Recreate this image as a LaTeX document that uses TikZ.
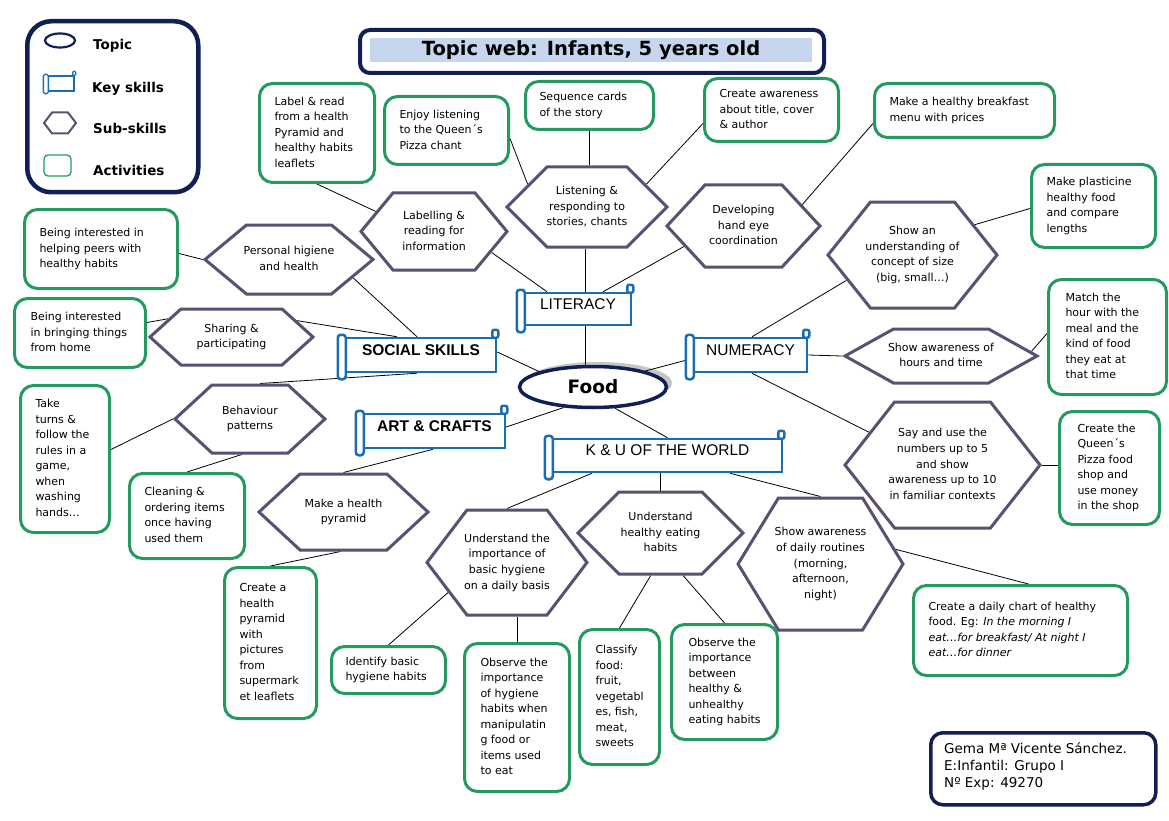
\documentclass[tikz,border=0pt]{standalone}
\usepackage{fontspec}
\setmainfont{DejaVu Sans}
\newfontfamily\arialf{Liberation Sans}
\usetikzlibrary{shapes.symbols,shapes.geometric,backgrounds,calc}
\definecolor{navy}{RGB}{16,32,84}
\definecolor{actgreen}{RGB}{36,154,96}
\definecolor{hexpurple}{RGB}{92,80,112}
\definecolor{scrollblue}{RGB}{28,108,176}
\definecolor{titlefill}{RGB}{198,214,238}
\newcommand\hextext[1]{\makebox[0pt]{\begin{tabular}{@{}c@{}}#1\end{tabular}}}
\newcommand\acttext[2]{\makebox[#1pt][l]{\begin{tabular}{@{}l@{}}#2\end{tabular}}}
\newcommand\scrolldeco[1]{%
  \draw[scrollline,fill=white,rounded corners=3pt] ([xshift=-7pt,yshift=2pt]#1.north west) rectangle ([xshift=1pt,yshift=-6pt]#1.south west);
  \draw[scrollline,fill=white,rounded corners=2pt] ([xshift=-5pt,yshift=7pt]#1.north east) rectangle ([xshift=1pt,yshift=-1pt]#1.north east);
}
\tikzset{
  act/.style={draw=actgreen, line width=3pt, rounded corners=13pt, fill=white, inner xsep=15pt, inner ysep=0pt, anchor=north west, font=\fontsize{11}{15.5}\selectfont},
  subskill/.style={signal, signal to=east and west, draw=hexpurple, line width=3pt, fill=white, inner sep=0pt, font=\fontsize{11}{15.6}\selectfont},
  keyskill/.style={draw=scrollblue, line width=2.5pt, fill=white, inner sep=0pt, text height=0pt, text depth=0pt, font=\arialf\fontsize{15.5}{18}\selectfont},
  scrollline/.style={draw=scrollblue, line width=2.5pt},
  conn/.style={draw=black, line width=0.8pt},
  legtext/.style={anchor=base west, inner sep=0pt, font=\bfseries\fontsize{13.5}{16}\selectfont},
}
\begin{document}
\begin{tikzpicture}[x=1pt,y=-1pt]
\useasboundingbox (0,0) rectangle (1169,821);

% ---------- legend ----------
\node[draw=navy, line width=4.5pt, rounded corners=24pt, minimum width=171, minimum height=171, anchor=north west] (legend) at (25,19) {};
\node[ellipse, draw=navy, line width=2.2pt, minimum width=30, minimum height=14, inner sep=0pt] (legtopic) at (60,40.5) {};
\node[draw=scrollblue, line width=1.3pt, minimum width=26, minimum height=15, inner sep=0pt] (legkey) at (61,83.5) {};
\draw[draw=scrollblue, line width=1.3pt, fill=white, rounded corners=1.5pt] ([xshift=-4pt,yshift=1pt]legkey.north west) rectangle ([xshift=1pt,yshift=-2pt]legkey.south west);
\draw[draw=scrollblue, line width=1.3pt, fill=white, rounded corners=1pt] ([xshift=-2pt,yshift=4pt]legkey.north east) rectangle ([xshift=1pt]legkey.north east);
\node[signal, signal to=east and west, draw=hexpurple, line width=2pt, minimum width=32, minimum height=21, signal pointer angle=105, inner sep=0pt] (legsub) at (60,123) {};
\node[draw=actgreen, line width=1.3pt, rounded corners=4pt, minimum width=27, minimum height=21] (legact) at (57.5,165.5) {};
\node[legtext] (lt1) at (93,50) {Topic};
\node[legtext] (lt2) at (92,93) {Key skills};
\node[legtext] (lt3) at (93,134) {Sub-skills};
\node[legtext] (lt4) at (93,176) {Activities};

% ---------- title ----------
\node[draw=navy, line width=4pt, rounded corners=10pt, minimum width=464, minimum height=43, anchor=north west] (titlebox) at (358,28) {};
\node[fill=titlefill, minimum width=442, minimum height=24, inner sep=0pt, font=\bfseries\fontsize{19.5}{22}\selectfont] (title) at (591,50) {Topic web: Infants, 5 years old};

% ---------- topic ----------
\node[ellipse, draw=navy, line width=3.5pt, fill=white, minimum width=147, minimum height=41, inner sep=0pt, font=\bfseries\fontsize{18.5}{20}\selectfont] (food) at (593,387) {Food};

% ---------- key skills ----------
\node[keyskill, minimum width=106, minimum height=32] (k1) at (578,309) {LITERACY};
\scrolldeco{k1}
\node[keyskill, minimum width=150, minimum height=34] (k2) at (421,355) {\bfseries SOCIAL SKILLS};
\scrolldeco{k2}
\node[keyskill, minimum width=113, minimum height=34] (k3) at (750.5,355) {NUMERACY};
\scrolldeco{k3}
\node[keyskill, minimum width=141, minimum height=34] (k4) at (434.5,431) {\bfseries ART \& CRAFTS};
\scrolldeco{k4}
\node[keyskill, minimum width=229, minimum height=33] (k5) at (667.5,455.5) {K \& U OF THE WORLD};
\scrolldeco{k5}

% ---------- sub-skills ----------
\node[subskill, minimum width=146, minimum height=77, signal pointer angle=100.6] (h1) at (434,231.5) {\hextext{Labelling \&\\reading for\\information}};
\node[subskill, minimum width=160, minimum height=80, signal pointer angle=90] (h2) at (587,207) {\hextext{Listening \&\\responding to\\stories, chants}};
\node[subskill, minimum width=153, minimum height=82, signal pointer angle=94.4] (h3) at (743.5,226) {\hextext{Developing\\hand eye\\coordination}};
\node[subskill, minimum width=169, minimum height=106, signal pointer angle=102.6] (h4) at (912.5,255) {\hextext{Show an\\understanding of\\concept of size\\(big, small…)}};
\node[subskill, minimum width=168, minimum height=69, signal pointer angle=79.5] (h5) at (289,259.5) {\hextext{Personal higiene\\and health}};
\node[subskill, minimum width=163, minimum height=56, signal pointer angle=84.2] (h6) at (231.5,337) {\hextext{Sharing \&\\participating}};
\node[subskill, minimum width=150, minimum height=68, signal pointer angle=85.2] (h7) at (250,419) {\hextext{Behaviour\\patterns}};
\node[subskill, minimum width=169, minimum height=76, signal pointer angle=85.6] (h8) at (343.5,512) {\hextext{Make a health\\pyramid}};
\node[subskill, minimum width=160, minimum height=105, signal pointer angle=105.4] (h9) at (507,562.5) {\hextext{Understand the\\importance of\\basic hygiene\\on a daily basis}};
\node[subskill, minimum width=165, minimum height=82, signal pointer angle=90] (h10) at (660.5,533) {\hextext{Understand\\healthy eating\\habits}};
\node[subskill, minimum width=165, minimum height=132, signal pointer angle=117] (h11) at (820.5,564) {\hextext{Show awareness\\of daily routines\\(morning,\\afternoon,\\night)}};
\node[subskill, minimum width=192, minimum height=54, signal pointer angle=58.2] (h12) at (941,356) {\hextext{Show awareness of\\hours and time}};
\node[subskill, minimum width=195, minimum height=126, signal pointer angle=103.6] (h13) at (942.5,465) {\hextext{Say and use the\\numbers up to 5\\and show\\awareness up to 10\\in familiar contexts}};

% ---------- activities ----------
\node[act, minimum width=115, minimum height=99] (a1) at (258,82) {\acttext{85}{Label \& read\\from a health\\Pyramid and\\healthy habits\\leaflets}};
\node[act, minimum width=124, minimum height=68] (a2) at (383,95) {\acttext{94}{Enjoy listening\\to the Queen´s\\Pizza chant}};
\node[act, minimum width=128, minimum height=48, inner xsep=14pt] (a3) at (524,80) {\acttext{100}{Sequence cards\\of the story}};
\node[act, minimum width=134, minimum height=63] (a4) at (703,77) {\acttext{104}{Create awareness\\about title, cover\\\& author}};
\node[act, minimum width=180, minimum height=54] (a5) at (873,82) {\acttext{150}{Make a healthy breakfast\\menu with prices}};
\node[act, minimum width=124, minimum height=83] (a6) at (1030,163) {\acttext{94}{Make plasticine\\healthy food\\and compare\\lengths}};
\node[act, minimum width=118, minimum height=115, inner xsep=17pt] (a7) at (1047,278) {\acttext{84}{Match the\\hour with the\\meal and the\\kind of food\\they eat at\\that time}};
\node[act, minimum width=100, minimum height=113, inner xsep=18pt] (a8) at (1058,410) {\acttext{64}{Create the\\Queen´s\\Pizza food\\shop and\\use money\\in the shop}};
\node[act, minimum width=214, minimum height=90] (a9) at (912,584) {\acttext{184}{Create a daily chart of healthy\\food. Eg: \textit{In the morning I}\\\textit{eat…for breakfast/ At night I}\\\textit{eat…for dinner}}};
\node[act, minimum width=153, minimum height=79] (a10) at (23,208) {\acttext{123}{Being interested in\\helping peers with\\healthy habits}};
\node[act, minimum width=131, minimum height=69, inner xsep=16pt] (a11) at (13,297) {\acttext{99}{Being interested\\in bringing things\\from home}};
\node[act, minimum width=89, minimum height=147] (a12) at (19,384) {\acttext{59}{Take\\turns \&\\follow the\\rules in a\\game,\\when\\washing\\hands…}};
\node[act, minimum width=115, minimum height=85] (a13) at (128,472) {\acttext{85}{Cleaning \&\\ordering items\\once having\\used them}};
\node[act, minimum width=92, minimum height=151] (a14) at (223,566) {\acttext{62}{Create a\\health\\pyramid\\with\\pictures\\from\\supermark\\et leaflets}};
\node[act, minimum width=114, minimum height=47, inner xsep=14pt] (a15) at (330,645) {\acttext{86}{Identify basic\\hygiene habits}};
\node[act, minimum width=105, minimum height=148, inner xsep=16pt] (a16) at (463,642) {\acttext{73}{Observe the\\importance\\of hygiene\\habits when\\manipulatin\\g food or\\items used\\to eat}};
\node[act, minimum width=80, minimum height=135, inner xsep=16pt] (a17) at (578,628) {\acttext{48}{Classify\\food:\\fruit,\\vegetabl\\es, fish,\\meat,\\sweets}};
\node[act, minimum width=106, minimum height=115, inner xsep=17pt] (a18) at (670,623) {\acttext{72}{Observe the\\importance\\between\\healthy \&\\unhealthy\\eating habits}};

% ---------- footer ----------
\node[draw=navy, line width=3.5pt, rounded corners=12pt, minimum width=225, minimum height=72, anchor=north west] (footer) at (929,731) {};
\node[anchor=base west, inner sep=0pt, font=\fontsize{13.5}{17}\selectfont] (footertext) at (944,753.5) {\begin{tabular}[t]{@{}l@{}}Gema Mª Vicente Sánchez.\\E:Infantil: Grupo I\\Nº Exp: 49270\end{tabular}};

% ---------- connectors ----------
\begin{pgfonlayer}{background}
\fill[white] (0,0) rectangle (1169,821);
\fill[gray!45] ([xshift=5pt,yshift=4pt]food.center) ellipse [x radius=74pt, y radius=21pt];
\draw[conn] ([xshift=7pt]k1.south) -- ([xshift=7pt]k1.south |- food.north);
\draw[conn] (food.164) -- ([yshift=3pt]k2.east);
\draw[conn] (food.17) -- ([xshift=-6pt,yshift=-5pt]k3.west);
\draw[conn] (food.215) -- ([yshift=4pt]k4.east);
\draw[conn] (food.316) -- (k5.north);
\draw[conn] (h1.-20) -- ([xshift=-31pt]k1.north);
\draw[conn] ([xshift=7pt]k1.north) -- ([xshift=7pt]k1.north |- h2.south);
\draw[conn] ([xshift=25pt]k1.north) -- (h3.199);
\draw[conn] (h5.-16) -- ([xshift=-4pt]k2.north);
\draw[conn] (h6.14) -- ([xshift=-24pt]k2.north);
\draw[conn] ([xshift=-4pt]k2.south) -- (h7.74);
\draw[conn] ([xshift=1.5pt]k3.north) -- (h4.201);
\draw[conn] (k3.east) -- (h12.west);
\draw[conn] ([xshift=1.5pt]k3.south) -- (h13.156);
\draw[conn] ([xshift=-1.5pt]k4.south) -- (h8.north);
\draw[conn] ([xshift=-75.5pt]k5.south) -- (h9.north);
\draw[conn] (h10.north) -- (h10.north |- k5.south);
\draw[conn] ([xshift=62.5pt]k5.south) -- (h11.north);
\draw[conn] (a1.south) -- (h1.161);
\draw[conn] ([yshift=-8pt]a2.east) -- (h2.159);
\draw[conn] (a3.south) -- (a3.south |- h2.north);
\draw[conn] (h2.21) -- ([yshift=-13.5pt]a4.west);
\draw[conn] (h3.20) -- ([yshift=-13pt]a5.west);
\draw[conn] (h4.26) -- ([yshift=-2.5pt]a6.west);
\draw[conn] (h5.west) -- ([yshift=-4.5pt]a10.east);
\draw[conn] (h6.164) -- ([yshift=10.5pt]a11.east);
\draw[conn] (h7.west) -- ([yshift=9.5pt]a12.east);
\draw[conn] (h7.257) -- (a13.north);
\draw[conn] ([xshift=-3pt]h8.south) -- (a14.north);
\draw[conn] (h9.207) -- (a15.north);
\draw[conn] (a16.north) -- (a16.north |- h9.south);
\draw[conn] (h10.257) -- (a17.north);
\draw[conn] (h10.298) -- (a18.north);
\draw[conn] (h11.11) -- ([xshift=8pt]a9.north);
\draw[conn] (h12.3) -- ([yshift=3.5pt]a7.west);
\draw[conn] (h13.east) -- (h13.east -| a8.west);
\end{pgfonlayer}
\end{tikzpicture}
\end{document}
